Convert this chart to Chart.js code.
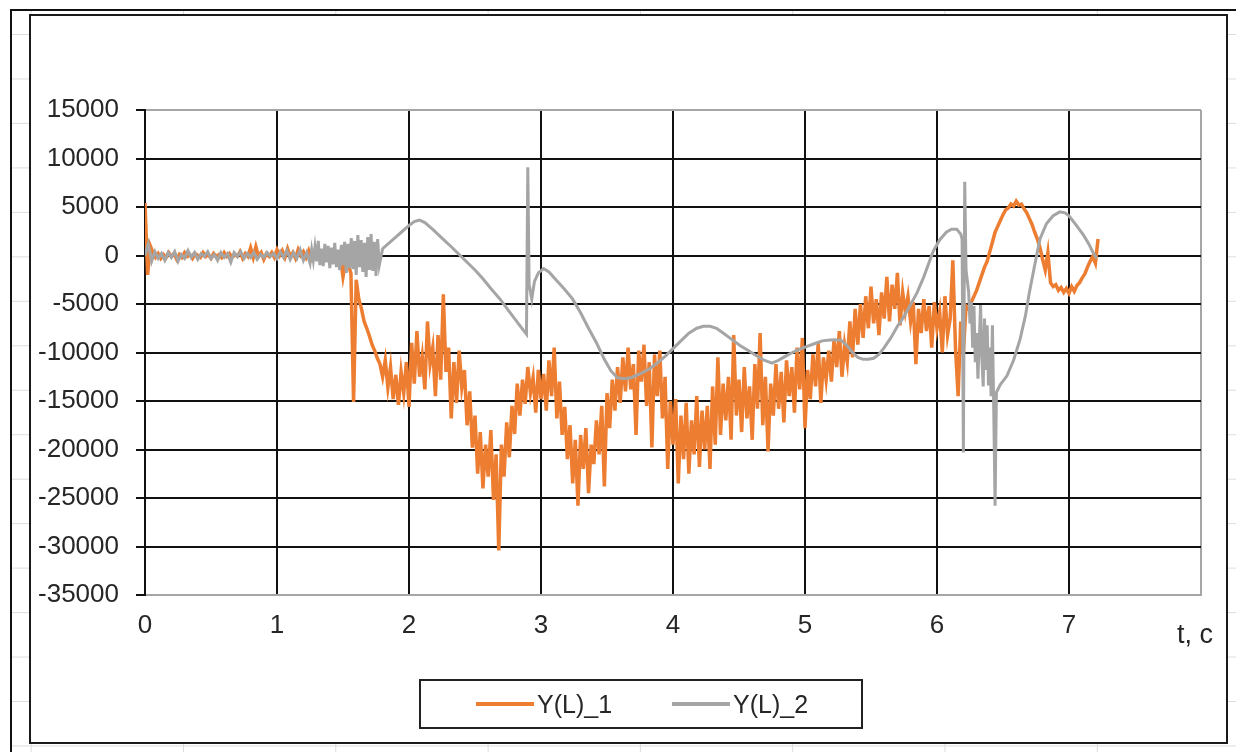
<!DOCTYPE html>
<html lang="ru">
<head>
<meta charset="UTF-8" />
<title>Y(L)</title>
<script src="https://cdn.jsdelivr.net/npm/chart.js@4.4.1/dist/chart.umd.min.js"></script>
<style>
  html, body { margin: 0; padding: 0; background: #fff; }
  body { width: 1236px; height: 752px; position: relative; overflow: hidden; font-family: 'Liberation Sans', Arial, sans-serif; color: #262626; }
  /* spreadsheet cells behind the chart */
  .sheet {
    position: absolute; left: 10px; top: 9px; right: 0; bottom: 0;
    border-left: 2px solid #111; border-top: 2px solid #111;
    background-image: linear-gradient(to bottom, #dcdcdc 1px, transparent 1px),
                      linear-gradient(to right, #dcdcdc 1px, transparent 1px);
    background-size: 100% 44.47px, 152.3px 100%;
    background-position: 0 23px, 171px 0;
  }
  .frame { position: absolute; left: 29px; top: 14px; width: 1195px; height: 726px; border: 2px solid #1a1a1a; background: #fff; }
  .chart-view { position: absolute; left: 0; top: 0; width: 1236px; height: 752px; }
  .axis-title { position: absolute; left: 1177px; top: 619px; font-size: 27px; }
  .legend {
    position: absolute; left: 419px; top: 679px; width: 444px; height: 50px;
    border: 2px solid #222; display: flex; align-items: center; padding-left: 55px; box-sizing: border-box;
  }
  .legend-item { display: flex; align-items: center; margin-right: 60px; font-size: 25px; white-space: nowrap; }
  .legend-line { display: inline-block; width: 58px; height: 4px; margin-right: 3px; }
</style>
</head>
<body>
  <div class="sheet"></div>
  <div class="frame"></div>
  <div class="chart-view"><canvas id="chart"></canvas></div>
  <div class="axis-title">t, c</div>
  <div class="legend" id="legend"></div>

<script>
  //data
  const SERIES_NAMES = ['Y(L)_1', 'Y(L)_2'];
  const X_TICKS = [0, 1, 2, 3, 4, 5, 6, 7];

  // Y(L)_1 sampled every 0.02 s from t = 0
  const Y1_T0 = 0;
  const Y1_DT = 0.02;
  const y1Values = [
    5400, -2000, 1000, 300, -200, 200, -300, 100, -200, 300,
    -100, 200, -400, 100, -200, 300, -100, 100, -300, 200,
    0, -200, 300, -100, 100, -300, 200, -100, 100, -200,
    300, -100, 200, -200, 100, -100, 400, -300, 200, -100,
    800, -200, 900, -100, 300, -400, 200, -100, 300, -200,
    600, 0, 500, -200, 700, -100, 300, -300, 600, 0,
    400, -200, 500, -300, 300, -200, 200, -400, 300, -100,
    100, -500, 200, -300, -100, -2200, -600, -1000, -1800, -15100,
    -2500, -4500, -5500, -6800, -7500, -8300, -9200, -9800, -10600, -11200,
    -12500, -10800, -13600, -11500, -14800, -12300, -15400, -12000, -14200, -11000,
    -15600, -9000, -13200, -7800, -12500, -10400, -13800, -6800, -11200, -9500,
    -14500, -8200, -12800, -4000, -12000, -9500, -16800, -11000, -15200, -9800,
    -13600, -11800, -17500, -14000, -19800, -16500, -22500, -18200, -24000, -19500,
    -22800, -18000, -25200, -20500, -30400, -19500, -22800, -17200, -20800, -15500,
    -18400, -13200, -16500, -12800, -15300, -11500, -14200, -12600, -16200, -11800,
    -14800, -12200, -16000, -10800, -14500, -9500, -16800, -13000, -18500, -15600,
    -21000, -17500, -23500, -19000, -25800, -18500, -22000, -17800, -24500, -19500,
    -21500, -17000, -20500, -15500, -23800, -14200, -17800, -12800, -16000, -11500,
    -15200, -10500, -14000, -9500, -13800, -11200, -18500, -9800, -13000, -9200,
    -15500, -11000, -19800, -10200, -14500, -9800, -16800, -12500, -22000, -15000,
    -19500, -14800, -23500, -16500, -21000, -15200, -22500, -17000, -20500, -14500,
    -21800, -16000, -20000, -15500, -22000, -13500, -19500, -10500, -18500, -13200,
    -17000, -12500, -19000, -8200, -16500, -12800, -18200, -11500, -16800, -13500,
    -19000, -11200, -15800, -8000, -17500, -12500, -20200, -13200, -16500, -11200,
    -15800, -12000, -17200, -10800, -14500, -11500, -16200, -9500, -13800, -8500,
    -17800, -11800, -14800, -10200, -13500, -9000, -15200, -10500, -12800, -9800,
    -13000, -8600, -11500, -7800, -12500, -9200, -11000, -6800, -10500, -5500,
    -9200, -5000, -8500, -4200, -7500, -3200, -7000, -4500, -8200, -3800,
    -6500, -2200, -6800, -3000, -5500, -1800, -7200, -3800, -5800, -4200,
    -6800, -4800, -11200, -5500, -8000, -4500, -7800, -5200, -9500, -4800,
    -7500, -5800, -10000, -4200, -8200, -6500, -500, -9500, -14500, -6800,
    -10000, -5200, -5500, -4800, -4200, -3600, -2800, -2000, -1200, -600,
    400, 1400, 2400, 3000, 3600, 4200, 4700, 4900, 5300, 5100,
    5600, 5200, 5300, 4800, 4400, 3800, 3200, 2400, 1700, 800,
    -400, -1500, 300, -2800, -3200, -3000, -3600, -3300, -3800, -3400,
    -3900, -3200, -3700, -3100, -2800, -2300, -1900, -1200, -600, -100,
    -800, 1700
  ];

  // Y(L)_2 read at irregular times
  const y2Times = [
    0, 0.025, 0.05, 0.075, 0.1, 0.125, 0.15, 0.175, 0.2, 0.225,
    0.25, 0.275, 0.3, 0.325, 0.35, 0.375, 0.4, 0.425, 0.45, 0.475,
    0.5, 0.525, 0.55, 0.575, 0.6, 0.625, 0.65, 0.675, 0.7, 0.725,
    0.75, 0.775, 0.8, 0.825, 0.85, 0.875, 0.9, 0.925, 0.95, 0.975,
    1.0, 1.025, 1.05, 1.075, 1.1, 1.125, 1.15, 1.175, 1.2, 1.225,
    1.25, 1.2625, 1.275, 1.2875, 1.3, 1.3125, 1.325, 1.3375, 1.35, 1.3625,
    1.375, 1.3875, 1.4, 1.4125, 1.425, 1.4375, 1.45, 1.4625, 1.475, 1.4875,
    1.5, 1.5125, 1.525, 1.5375, 1.55, 1.5625, 1.575, 1.5875, 1.6, 1.6125,
    1.625, 1.6375, 1.65, 1.6625, 1.675, 1.6875, 1.7, 1.7125, 1.725, 1.7375,
    1.75, 1.7625, 1.775,
    1.8, 1.85, 1.9, 1.95, 2.0, 2.04, 2.08, 2.12,
    2.18, 2.25, 2.32, 2.38, 2.44, 2.5, 2.56, 2.62, 2.69, 2.75,
    2.8, 2.85, 2.89, 2.9, 2.91, 2.93, 2.95, 2.98, 3.02, 3.06,
    3.12, 3.18, 3.24, 3.3, 3.36, 3.42, 3.48, 3.53, 3.58, 3.63,
    3.68, 3.75, 3.82, 3.88, 3.94, 4.0, 4.06, 4.12, 4.18, 4.23,
    4.28, 4.33, 4.39, 4.45, 4.51, 4.57, 4.63, 4.69, 4.75, 4.8,
    4.85, 4.89, 4.95, 5.01, 5.07, 5.13, 5.19, 5.27, 5.32, 5.36,
    5.4, 5.44, 5.48, 5.52, 5.56, 5.6, 5.65, 5.7, 5.74, 5.79,
    5.85, 5.9, 5.97, 6.02, 6.07, 6.11, 6.15, 6.18, 6.19, 6.2,
    6.21, 6.22, 6.24, 6.25, 6.26, 6.27, 6.28, 6.29, 6.3, 6.31,
    6.32, 6.33, 6.34, 6.35, 6.36, 6.37, 6.38, 6.39, 6.4, 6.41,
    6.42, 6.43, 6.44, 6.45, 6.48, 6.53, 6.58, 6.63, 6.67, 6.7,
    6.74, 6.78, 6.83, 6.88, 6.93, 6.97, 7.0, 7.05, 7.11, 7.15,
    7.18, 7.21
  ];
  const y2Values = [
    0, 1200, -600, 400, -300, 200, -500, 300, -200, 400,
    -600, 100, -300, 500, -200, 300, -400, 200, -100, 400,
    -300, 100, -500, 300, -200, 200, -700, 300, -100, 400,
    -300, 200, -200, 300, -400, 100, -200, 300, -100, 200,
    -300, 400, -200, 500, -400, 300, -300, 600, -500, 300,
    -800, 600, -500, 900, -600, 1500, -1000, 700, -1100, 1200,
    -700, 1000, -1300, 800, -900, 1300, -1200, 600, -1500, 1100,
    -1000, 1400, -1800, 1200, -1300, 1800, -1400, 1500, -2000, 2100,
    -1200, 1600, -1700, 1300, -2200, 1900, -1500, 2200, -1600, 1400,
    -2100, 1700, -1000,
    700, 1300, 1900, 2500, 3100, 3500, 3650, 3400,
    2700, 1800, 900, 100, -700, -1500, -2400, -3400, -4500, -5600,
    -6500, -7400, -8100, 9100, -3000, -4500, -2700, -1800, -1350, -1700,
    -2600, -3500, -4500, -5900, -7500, -9000, -10700, -11900, -12600, -12700,
    -12600, -12200, -11700, -11100, -10400, -9600, -8800, -8000, -7500, -7300,
    -7300, -7500, -8100, -8700, -9300, -9800, -10300, -10800, -11100, -10800,
    -10400, -10100, -9700, -9400, -9100, -8800, -8700, -8700, -9300, -10000,
    -10500, -10700, -10700, -10600, -10200, -9500, -8500, -7300, -6500, -5300,
    -3800, -2200, 400, 1600, 2400, 2700, 2700, 2200, 1700, -20300,
    7600, -1500, -3800, -7000, -4800, -9500, -5200, -11000, -8000, -12700,
    -9000, -5100, -10500, -13500, -6500, -11800, -7200, -13400, -9500, -14500,
    -7200, -16000, -25800, -14100, -13300, -12400, -10800, -8600, -6200, -3800,
    -1000, 1700, 3300, 4100, 4500, 4400, 4100, 3200, 2100, 1200,
    360, -300
  ];

  const Y_MIN = -35000, Y_MAX = 15000, Y_STEP = 5000;

  const y1Points = y1Values.map((v, i) => ({ x: +(Y1_T0 + i * Y1_DT).toFixed(2), y: v }));
  const y2Points = y2Times.map((t, i) => ({ x: t, y: y2Values[i] }));

  const BLACK = '#111';
  const EDGE = '#a6a6a6';

  Chart.defaults.font.family = "'Liberation Sans', Arial, sans-serif";
  Chart.defaults.font.size = 26;
  Chart.defaults.color = '#262626';

  //config
  const config = {
    type: 'line',
    data: {
      datasets: [
        {
          label: SERIES_NAMES[0],
          data: y1Points,
          borderColor: '#ED7D31',
          backgroundColor: '#ED7D31',
          borderWidth: 3.5,
          pointRadius: 0,
          tension: 0,
          order: 2
        },
        {
          label: SERIES_NAMES[1],
          data: y2Points,
          borderColor: '#A5A5A5',
          backgroundColor: '#A5A5A5',
          borderWidth: 3,
          pointRadius: 0,
          tension: 0,
          order: 1
        }
      ]
    },
    options: {
      responsive: true,
      maintainAspectRatio: false,
      animation: false,
      events: [],
      layout: { padding: { left: 0, top: 110, right: 35, bottom: 0 } },
      plugins: {
        legend: { display: false },
        tooltip: { enabled: false }
      },
      scales: {
        x: {
          type: 'linear',
          min: 0,
          max: 8,
          afterFit: (scale) => { scale.height = 157; },
          ticks: {
            stepSize: 1,
            padding: 15,
            maxRotation: 0,
            callback: (v) => (X_TICKS.includes(v) ? String(v) : '')
          },
          grid: {
            color: (c) => (c.tick && c.tick.value === 8 ? EDGE : BLACK),
            lineWidth: 2,
            drawTicks: false
          },
          border: { color: EDGE, width: 2 }
        },
        y: {
          min: Y_MIN,
          max: Y_MAX,
          afterFit: (scale) => { scale.width = 145; },
          ticks: {
            stepSize: Y_STEP,
            padding: 17,
            callback: (v) => String(v)
          },
          grid: {
            color: (c) => (c.tick && (c.tick.value === Y_MAX || c.tick.value === Y_MIN) ? EDGE : BLACK),
            lineWidth: 2,
            tickLength: 9,
            tickColor: BLACK
          },
          border: { color: BLACK, width: 2 }
        }
      }
    }
  };

  //init
  const ctx = document.getElementById('chart');
  const chart = new Chart(ctx, config);

  // legend
  const legendEl = document.getElementById('legend');
  chart.data.datasets.forEach((ds) => {
    const item = document.createElement('span');
    item.className = 'legend-item';
    const line = document.createElement('span');
    line.className = 'legend-line';
    line.style.background = ds.borderColor;
    const text = document.createElement('span');
    text.textContent = ds.label;
    item.appendChild(line);
    item.appendChild(text);
    legendEl.appendChild(item);
  });
</script>
</body>
</html>
